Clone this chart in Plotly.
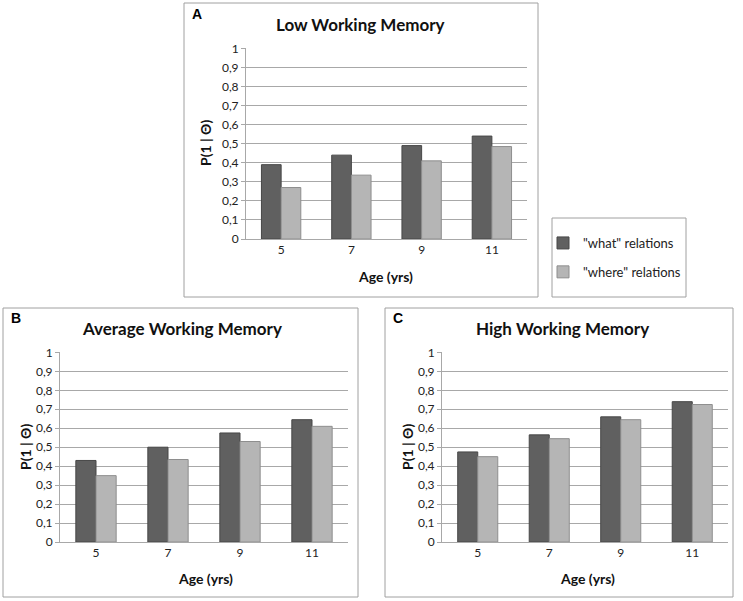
import plotly.graph_objects as go

W, H = 743, 601

ages = ["5", "7", "9", "11"]
low_what = [0.39, 0.44, 0.49, 0.54]
low_where = [0.27, 0.335, 0.41, 0.485]
avg_what = [0.43, 0.50, 0.575, 0.645]
avg_where = [0.35, 0.435, 0.53, 0.61]
high_what = [0.475, 0.565, 0.66, 0.74]
high_where = [0.45, 0.545, 0.645, 0.725]
ytick_vals = [0, 0.1, 0.2, 0.3, 0.4, 0.5, 0.6, 0.7, 0.8, 0.9, 1]
ytick_text = ["0", "0,1", "0,2", "0,3", "0,4", "0,5", "0,6", "0,7", "0,8", "0,9", "1"]
series_names = ['"what" relations', '"where" relations']
titles = ["Low Working Memory", "Average Working Memory", "High Working Memory"]
letters = ["A", "B", "C"]

FONT = "Lato"
DARK, DARK_LINE = "#606060", "#474747"
LIGHT, LIGHT_LINE = "#b5b5b5", "#8e8e8e"
GRID = "#a8a8a8"

def px(x):
    return x / W

def py(y):
    return 1 - y / H

# panel geometry in pixels
panels = [
    dict(data=(low_what, low_where), plot=(246, 527, 48, 239), box=(184, 3, 538, 297),
         title=(360, 25), letter=(190, 14), ytitle=(205, 143), xtitle=(385, 276)),
    dict(data=(avg_what, avg_where), plot=(60, 348, 352, 542), box=(3, 308, 358, 597),
         title=(182, 328), letter=(9, 318), ytitle=(25, 447), xtitle=(205, 578)),
    dict(data=(high_what, high_where), plot=(442, 728, 352, 542), box=(385, 308, 733, 597),
         title=(562, 328), letter=(391, 318), ytitle=(407, 447), xtitle=(587, 578)),
]

fig = go.Figure()
shapes = []
annotations = []

for i, p in enumerate(panels):
    ax = "" if i == 0 else str(i + 1)
    what, where = p["data"]
    fig.add_trace(go.Bar(x=ages, y=what, name=series_names[0], xaxis="x" + ax, yaxis="y" + ax,
                         marker=dict(color=DARK, line=dict(color=DARK_LINE, width=1)),
                         showlegend=(i == 0), legendgroup="a", hoverinfo="y"))
    fig.add_trace(go.Bar(x=ages, y=where, name=series_names[1], xaxis="x" + ax, yaxis="y" + ax,
                         marker=dict(color=LIGHT, line=dict(color=LIGHT_LINE, width=1)),
                         showlegend=(i == 0), legendgroup="b", hoverinfo="y"))
    x0, x1, y0, y1 = p["plot"]
    fig.layout["xaxis" + ax] = dict(domain=[px(x0), px(x1)], anchor="y" + ax, type="category",
                                   showgrid=False, showline=True, linecolor=GRID, linewidth=1,
                                   ticks="", tickfont=dict(family=FONT, size=12, color="#222"),
                                   automargin=False, fixedrange=True)
    fig.layout["yaxis" + ax] = dict(domain=[py(y1), py(y0)], anchor="x" + ax, range=[0, 1.002],
                                   tickvals=ytick_vals, ticktext=ytick_text,
                                   showgrid=True, gridcolor=GRID, gridwidth=1,
                                   showline=True, linecolor=GRID, linewidth=1,
                                   ticks="outside", ticklen=4, tickcolor=GRID,
                                   zeroline=False, automargin=False,
                                   tickfont=dict(family=FONT, size=12, color="#222"),
                                   fixedrange=True)
    bx0, by0, bx1, by1 = p["box"]
    shapes.append(dict(type="rect", xref="paper", yref="paper",
                       x0=px(bx0), x1=px(bx1), y0=py(by1), y1=py(by0),
                       line=dict(color="#a0a0a0", width=1)))
    tx, ty = p["title"]
    annotations.append(dict(text="<b>" + titles[i] + "</b>", x=px(tx), y=py(ty), xref="paper", yref="paper",
                            showarrow=False, xanchor="center", yanchor="middle",
                            font=dict(family=FONT, size=17, color="#111")))
    lx, ly = p["letter"]
    annotations.append(dict(text="<b>" + letters[i] + "</b>", x=px(lx), y=py(ly), xref="paper", yref="paper",
                            showarrow=False, xanchor="left", yanchor="middle",
                            font=dict(family="Liberation Sans", size=14, color="#000")))
    yx, yy = p["ytitle"]
    annotations.append(dict(text="<b>P(1 | Θ)</b>", x=px(yx), y=py(yy), xref="paper", yref="paper",
                            showarrow=False, xanchor="center", yanchor="middle", textangle=-90,
                            font=dict(family=FONT, size=14, color="#111")))
    xx, xy = p["xtitle"]
    annotations.append(dict(text="<b>Age (yrs)</b>", x=px(xx), y=py(xy), xref="paper", yref="paper",
                            showarrow=False, xanchor="center", yanchor="middle",
                            font=dict(family=FONT, size=14, color="#111")))

# legend box
shapes.append(dict(type="rect", xref="paper", yref="paper",
                   x0=px(552), x1=px(686), y0=py(297), y1=py(218),
                   line=dict(color="#a0a0a0", width=1)))

fig.update_layout(
    width=W, height=H,
    margin=dict(l=0, r=0, t=0, b=0, pad=0, autoexpand=False),
    paper_bgcolor="white", plot_bgcolor="white",
    barmode="group", bargap=0.44, bargroupgap=0,
    shapes=shapes, annotations=annotations,
    legend=dict(x=px(543), y=py(228), xanchor="left", yanchor="top",
                traceorder="grouped", tracegroupgap=9, itemwidth=30,
                bgcolor="rgba(0,0,0,0)", borderwidth=0,
                font=dict(family=FONT, size=13, color="#222")),
    font=dict(family=FONT),
)

fig.write_html("out.html", config=dict(displayModeBar=False),
               post_script="document.body.style.margin='0';document.body.style.overflow='hidden';")
